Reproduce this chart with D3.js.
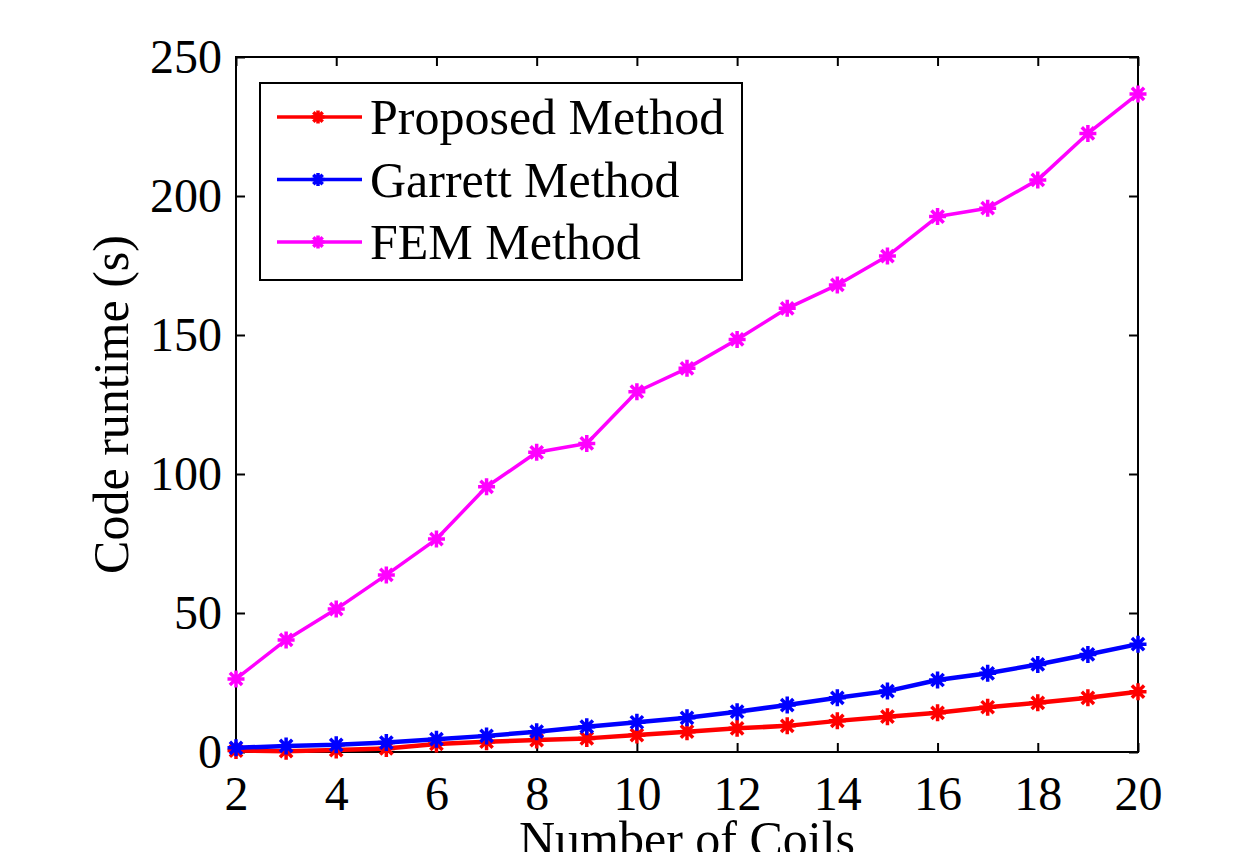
<!DOCTYPE html>
<html>
<head>
<meta charset="utf-8">
<script src="https://cdn.jsdelivr.net/npm/d3@7"></script>
<style>
  body { margin: 0; background: #fff; }
  svg { display: block; }
</style>
</head>
<body>
<div id="grafica"></div>
<script>
// datos
const coils    = [2, 3, 4, 5, 6, 7, 8, 9, 10, 11, 12, 13, 14, 15, 16, 17, 18, 19, 20]
const proposed = [0.5, 0.3, 0.7, 1.3, 2.9, 3.7, 4.3, 4.9, 6.1, 7.3, 8.5, 9.4, 11.2, 12.7, 14.1, 16.1, 17.7, 19.5, 21.7]
const garrett  = [1.5, 2.2, 2.6, 3.4, 4.6, 5.8, 7.3, 9.1, 10.7, 12.3, 14.5, 16.9, 19.5, 21.9, 25.9, 28.3, 31.5, 35.1, 38.8]
const fem      = [26.3, 40.3, 51.4, 63.7, 76.6, 95.4, 107.8, 111.0, 129.6, 138.0, 148.4, 159.6, 168.0, 178.4, 192.6, 195.6, 205.8, 222.5, 236.7]

const seriesNames  = ['Proposed Method', 'Garrett Method', 'FEM Method']
const seriesColors = ['#ff0000', '#0000ff', '#ff00ff']
const xTicks = [2, 4, 6, 8, 10, 12, 14, 16, 18, 20]
const yTicks = [0, 50, 100, 150, 200, 250]

ancho_total = 1237
alto_total  = 852
margin = { left: 236, right: 99, top: 57, bottom: 100 }

ancho = ancho_total - margin.left - margin.right
alto  = alto_total - margin.top - margin.bottom

fuente = '"Liberation Serif", "Times New Roman", serif'
tam = 48
tamEtiq = 50

svg = d3
        .select('#grafica')
        .append('svg')
        .attr('width', ancho_total)
        .attr('height', alto_total)

g = svg
      .append('g')
      .attr('transform', `translate(${margin.left}, ${margin.top})`)

x = d3.scaleLinear().domain([2, 20]).range([0, ancho])
y = d3.scaleLinear().domain([0, 250]).range([alto, 0])

// ejes estilo matlab: ticks hacia dentro en los cuatro lados
tickLen = 9
function estilo(sel) {
  sel.select('.domain').remove()
  sel.selectAll('line').attr('stroke', '#000').attr('stroke-width', 2)
  sel.selectAll('text')
    .attr('font-family', fuente)
    .attr('font-size', tam)
    .attr('fill', '#000')
}

xAbajo = g.append('g')
  .attr('transform', `translate(0, ${alto})`)
  .call(d3.axisBottom(x).tickValues(xTicks).tickSize(-tickLen))
estilo(xAbajo)
xAbajo.selectAll('text').attr('dy', '0.71em').attr('y', 24)

xArriba = g.append('g')
  .call(d3.axisTop(x).tickValues(xTicks).tickSize(-tickLen).tickFormat(''))
estilo(xArriba)

yIzq = g.append('g')
  .call(d3.axisLeft(y).tickValues(yTicks).tickSize(-tickLen))
estilo(yIzq)
yIzq.selectAll('text').attr('x', -14).attr('dy', '0.33em')

yDer = g.append('g')
  .attr('transform', `translate(${ancho}, 0)`)
  .call(d3.axisRight(y).tickValues(yTicks).tickSize(-tickLen).tickFormat(''))
estilo(yDer)

g.append('rect')
  .attr('x', 0)
  .attr('y', 0)
  .attr('width', ancho)
  .attr('height', alto)
  .attr('fill', 'none')
  .attr('stroke', '#000')
  .attr('stroke-width', 2)

// marcador asterisco
function asterisco(r) {
  const d = r * 0.72
  return `M${-r},0L${r},0M0,${-r}L0,${r}M${-d},${-d}L${d},${d}M${-d},${d}L${d},${-d}`
}

series = [proposed, garrett, fem]
anchos = [4.5, 4.5, 3.5]

linea = d3.line()
  .x((d, i) => x(coils[i]))
  .y((d) => y(d))

series.forEach((s, k) => {
  g.append('path')
    .datum(s)
    .attr('d', linea)
    .attr('fill', 'none')
    .attr('stroke', seriesColors[k])
    .attr('stroke-width', anchos[k])
    .attr('stroke-linejoin', 'round')

  g.selectAll('.m' + k)
    .data(s)
    .enter()
    .append('path')
      .attr('class', 'm' + k)
      .attr('transform', (d, i) => `translate(${x(coils[i])}, ${y(d)})`)
      .attr('d', asterisco(8.5))
      .attr('fill', 'none')
      .attr('stroke', seriesColors[k])
      .attr('stroke-width', 3.5)
})

// etiquetas de ejes
svg.append('text')
  .attr('x', margin.left + ancho / 2)
  .attr('y', 856)
  .attr('text-anchor', 'middle')
  .attr('font-family', fuente)
  .attr('font-size', tamEtiq)
  .text('Number of Coils')

svg.append('text')
  .attr('transform', `translate(128, ${margin.top + alto / 2}) rotate(-90)`)
  .attr('text-anchor', 'middle')
  .attr('font-family', fuente)
  .attr('font-size', tamEtiq)
  .text('Code runtime (s)')

// leyenda
leyenda = svg.append('g')
  .attr('transform', 'translate(260, 83)')

leyenda.append('rect')
  .attr('x', 0)
  .attr('y', 0)
  .attr('width', 482)
  .attr('height', 197)
  .attr('fill', '#fff')
  .attr('stroke', '#000')
  .attr('stroke-width', 2)

seriesNames.forEach((c, i) => {
  ren = leyenda.append('g')
    .attr('transform', `translate(0, ${34 + i * 62.5})`)

  ren.append('line')
    .attr('x1', 17)
    .attr('x2', 102)
    .attr('y1', 0)
    .attr('y2', 0)
    .attr('stroke', seriesColors[i])
    .attr('stroke-width', 3.5)

  ren.append('path')
    .attr('transform', 'translate(58, 0)')
    .attr('d', asterisco(6.5))
    .attr('fill', 'none')
    .attr('stroke', seriesColors[i])
    .attr('stroke-width', 3.5)

  ren.append('text')
    .attr('x', 110)
    .attr('y', 17)
    .attr('font-family', fuente)
    .attr('font-size', tamEtiq)
    .text(c)
})
</script>
</body>
</html>
